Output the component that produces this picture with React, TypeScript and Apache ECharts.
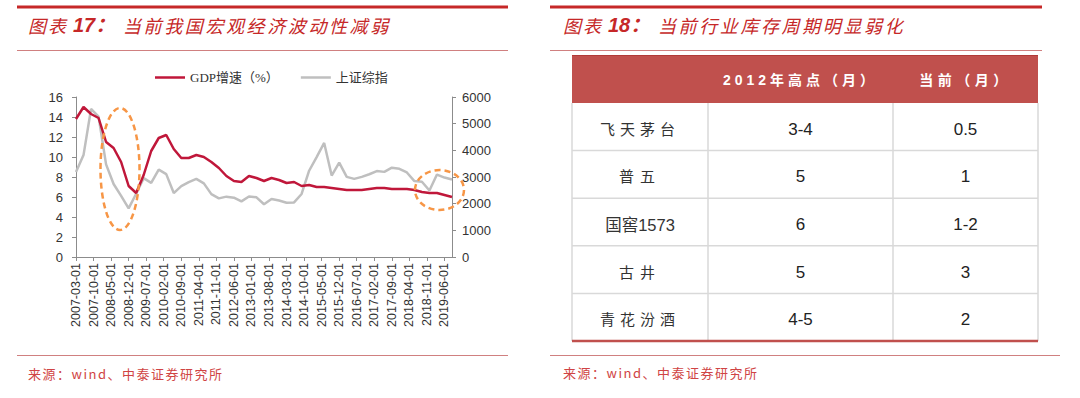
import React, { useEffect, useRef } from "react";
import * as echarts from "echarts";

// ---------------- data ----------------
const startYear = 2007;
const startMonth = 3; // first category 2007-03-01
const monthCount = 151; // 2007-03 .. 2019-09
const quarterStep = 3;
const labelEvery = 7; // one axis label each 7 months

// China GDP growth (%), quarterly, 2007Q1 .. 2019Q3
const gdpGrowth: number[] = [
  13.8, 15.0, 14.3, 13.9,
  11.5, 10.9, 9.5, 7.1,
  6.4, 8.2, 10.6, 11.9,
  12.2, 10.8, 9.9, 9.9,
  10.2, 10.0, 9.5, 8.9,
  8.1, 7.6, 7.5, 8.1,
  7.9, 7.6, 7.9, 7.7,
  7.4, 7.5, 7.1, 7.2,
  7.0, 7.0, 6.9, 6.8,
  6.7, 6.7, 6.7, 6.8,
  6.9, 6.9, 6.8, 6.8,
  6.8, 6.7, 6.5, 6.4,
  6.4, 6.2, 6.0,
];

// Shanghai Composite, quarter-end close, 2007Q1 .. 2019Q3
const shIndex: number[] = [
  3184, 3821, 5552, 5262,
  3473, 2736, 2294, 1821,
  2373, 2959, 2779, 3277,
  3109, 2398, 2656, 2808,
  2928, 2762, 2359, 2199,
  2263, 2225, 2086, 2269,
  2237, 1979, 2175, 2116,
  2033, 2048, 2364, 3235,
  3748, 4277, 3053, 3539,
  3004, 2930, 3005, 3104,
  3223, 3192, 3349, 3307,
  3169, 2847, 2821, 2494,
  3091, 2979, 2905,
];

const leftAxis = { min: 0, max: 16, interval: 2 };
const rightAxis = { min: 0, max: 6000, interval: 1000 };

const seriesNames = ["GDP增速（%）", "上证综指"];

const tableHeader = ["", "2012年高点（月）", "当前（月）"];
const brands = ["飞天茅台", "普五", "国窖1573", "古井", "青花汾酒"];
const peak2012 = ["3-4", "5", "6", "5", "4-5"];
const currentMonths = ["0.5", "1", "1-2", "3", "2"];

const leftTitle = { label: "图表", num: "17：", text: "当前我国宏观经济波动性减弱" };
const rightTitle = { label: "图表", num: "18：", text: "当前行业库存周期明显弱化" };
const sourceText = "来源：wind、中泰证券研究所";

function buildMonths(): string[] {
  const out: string[] = [];
  for (let i = 0; i < monthCount; i++) {
    const m = startMonth - 1 + i;
    const y = startYear + Math.floor(m / 12);
    const mm = (m % 12) + 1;
    out.push(`${y}-${String(mm).padStart(2, "0")}-01`);
  }
  return out;
}
const monthCategories = buildMonths();

// ---------------- style ----------------
const RED = "#C62828";
const THIN_RED = "#D08080";
const SRC_RED = "#D04444";
const GDP_COLOR = "#C0173A";
const SH_COLOR = "#BFBFBF";
const AXIS_COLOR = "#8C8C8C";
const LABEL_COLOR = "#333333";
const HEADER_FILL = "#C0504D";
const GRID_GRAY = "#D9D9D9";
const ORANGE = "#F79646";
const SANS = '"Liberation Sans", "Noto Sans CJK SC", sans-serif';
const CJK = '"Noto Sans CJK SC", "Liberation Sans", sans-serif';
const SERIF = '"Liberation Serif", "Noto Sans CJK SC", serif';

const spacingMap: Record<string, number> = {
  [leftTitle.text]: 2.6,
  [rightTitle.text]: 2.6,
  [leftTitle.label]: 2,
  [sourceText]: 1.5,
  飞天茅台: 5,
  普五: 6,
  古井: 6,
  青花汾酒: 5,
  "2012年高点（月）": 4,
  "当前（月）": 4.5,
};

function txt(
  x: number,
  y: number,
  text: string,
  o: {
    fill?: string;
    size?: number;
    family?: string;
    weight?: string;
    style?: string;
    align?: string;
    valign?: string;
  } = {}
) {
  const align = o.align || "left";
  const valign = o.valign || "middle";
  return {
    type: "text",
    x,
    y,
    z: 20,
    silent: true,
    style: {
      text,
      fill: o.fill || LABEL_COLOR,
      fontSize: o.size || 12,
      fontFamily: o.family || SANS,
      fontWeight: o.weight || "normal",
      fontStyle: o.style || "normal",
      align,
      verticalAlign: valign,
      textAlign: align,
      textVerticalAlign: valign,
    },
  };
}

function ln(x1: number, y1: number, x2: number, y2: number, stroke: string, lineWidth: number) {
  return { type: "line", z: 15, silent: true, shape: { x1, y1, x2, y2 }, style: { stroke, lineWidth } };
}

function titleEls(x: number, t: { label: string; num: string; text: string }) {
  return [
    txt(x, 25, t.label, { fill: RED, size: 18, family: CJK, style: "italic" }),
    txt(x + 45, 25, t.num, { fill: RED, size: 20, family: SANS, weight: "bold", style: "italic" }),
    txt(x + 95, 25, t.text, { fill: RED, size: 18, family: CJK, style: "italic" }),
  ];
}

function tableEls() {
  const cols = [572, 708, 893, 1038];
  const top = 55;
  const headBottom = 103;
  const rowH = 47.6;
  const textShift = 2.5;
  const els: any[] = [];
  els.push({
    type: "rect",
    z: 10,
    silent: true,
    shape: { x: cols[0], y: top, width: cols[3] - cols[0], height: headBottom - top },
    style: { fill: HEADER_FILL },
  });
  els.push(ln(cols[0], top + 0.5, cols[3], top + 0.5, "#B03A38", 1));
  const bottom = headBottom + rowH * brands.length;
  for (let r = 1; r < brands.length; r++) {
    const y = headBottom + rowH * r;
    els.push(ln(cols[0], y, cols[3], y, GRID_GRAY, 1.5));
  }
  cols.forEach((x) => els.push(ln(x, headBottom, x, bottom, GRID_GRAY, 1.5)));
  els.push(ln(cols[0], bottom, cols[3], bottom, HEADER_FILL, 2.5));
  const centers = [0, 1, 2].map((i) => (cols[i] + cols[i + 1]) / 2);
  tableHeader.forEach((h, i) => {
    if (h) els.push(txt(centers[i], (top + headBottom) / 2 + 1, h, { fill: "#FFFFFF", size: 14, weight: "bold", family: SANS, align: "center" }));
  });
  brands.forEach((b, r) => {
    const cy = headBottom + rowH * (r + 0.5) + textShift;
    const hasDigits = /\d/.test(b);
    els.push(txt(centers[0], cy, b, { fill: "#333", size: hasDigits ? 16.5 : 15, family: SANS, align: "center" }));
    els.push(txt(centers[1], cy, peak2012[r], { fill: "#222", size: 17, family: SANS, align: "center" }));
    els.push(txt(centers[2], cy, currentMonths[r], { fill: "#222", size: 17, family: SANS, align: "center" }));
  });
  return els;
}

function buildOption() {
  const gdpData = gdpGrowth.map((v, i) => [i * quarterStep, v]);
  const shData = shIndex.map((v, i) => [i * quarterStep, v]);
  const yAxisCommon = {
    type: "value",
    splitLine: { show: false },
    axisLine: { show: true, lineStyle: { color: AXIS_COLOR, width: 1 } },
    axisTick: { show: true, length: 4, lineStyle: { color: AXIS_COLOR } },
  };
  return {
    animation: false,
    backgroundColor: "#FFFFFF",
    grid: { left: 76, top: 97, width: 376, height: 160, containLabel: false },
    legend: {
      data: seriesNames,
      left: 155,
      top: 71,
      padding: 0,
      icon: "rect",
      itemWidth: 30,
      itemHeight: 2.5,
      itemGap: 22,
      textStyle: { fontSize: 13, color: LABEL_COLOR, fontFamily: SERIF },
    },
    xAxis: {
      type: "category",
      data: monthCategories,
      boundaryGap: false,
      axisLine: { lineStyle: { color: AXIS_COLOR, width: 1 } },
      axisTick: { interval: labelEvery - 1, length: 4, lineStyle: { color: AXIS_COLOR } },
      axisLabel: {
        interval: labelEvery - 1,
        rotate: 90,
        fontSize: 12.5,
        color: LABEL_COLOR,
        fontFamily: SANS,
        margin: 6,
      },
      splitLine: { show: false },
    },
    yAxis: [
      {
        ...yAxisCommon,
        position: "left",
        ...leftAxis,
        axisLabel: { fontSize: 13, color: LABEL_COLOR, fontFamily: SANS, margin: 13, formatter: (v: number) => String(v) },
      },
      {
        ...yAxisCommon,
        position: "right",
        ...rightAxis,
        axisLabel: { fontSize: 13, color: LABEL_COLOR, fontFamily: SANS, margin: 10, formatter: (v: number) => String(v) },
      },
    ],
    series: [
      {
        name: seriesNames[1],
        type: "line",
        yAxisIndex: 1,
        data: shData,
        symbol: "none",
        showSymbol: false,
        lineStyle: { color: SH_COLOR, width: 2.5 },
        itemStyle: { color: SH_COLOR },
        z: 2,
      },
      {
        name: seriesNames[0],
        type: "line",
        yAxisIndex: 0,
        data: gdpData,
        symbol: "none",
        showSymbol: false,
        lineStyle: { color: GDP_COLOR, width: 2.5 },
        itemStyle: { color: GDP_COLOR },
        z: 3,
      },
    ],
    graphic: [
      ln(17, 7, 508, 7, RED, 3),
      ln(550, 7, 1042, 7, RED, 3),
      ln(17, 50.5, 508, 50.5, THIN_RED, 1),
      ln(550, 50.5, 1042, 50.5, THIN_RED, 1),
      ln(17, 355.5, 508, 355.5, THIN_RED, 1),
      ln(550, 355.5, 1060, 355.5, THIN_RED, 1),
      ...titleEls(28, leftTitle),
      ...titleEls(563, rightTitle),
      txt(28, 373, sourceText, { fill: SRC_RED, size: 13, family: CJK }),
      txt(563, 372, sourceText, { fill: SRC_RED, size: 13, family: CJK }),
      {
        type: "ellipse",
        z: 30,
        silent: true,
        shape: { cx: 120, cy: 169, rx: 19.5, ry: 61 },
        style: { fill: "none", stroke: ORANGE, lineWidth: 2.5, lineDash: [6, 4] },
      },
      {
        type: "ellipse",
        z: 30,
        silent: true,
        shape: { cx: 439.5, cy: 190, rx: 24.5, ry: 20 },
        style: { fill: "none", stroke: ORANGE, lineWidth: 2.5, lineDash: [6, 4] },
      },
      ...tableEls(),
    ],
  };
}

function applySpacing(root: HTMLElement) {
  root.querySelectorAll("text").forEach((t) => {
    const s = spacingMap[(t.textContent || "").trim()];
    if (s) (t as SVGTextElement).style.letterSpacing = `${s}px`;
  });
}

export default function App() {
  const ref = useRef<HTMLDivElement>(null);
  useEffect(() => {
    document.body.style.margin = "0";
    const el = ref.current!;
    const chart = echarts.init(el, undefined, { renderer: "svg" });
    chart.setOption(buildOption() as any);
    const apply = () => applySpacing(el);
    apply();
    chart.on("finished", apply);
    const t = window.setTimeout(apply, 30);
    return () => {
      window.clearTimeout(t);
      chart.dispose();
    };
  }, []);
  return <div ref={ref} style={{ width: 1080, height: 398 }} />;
}
